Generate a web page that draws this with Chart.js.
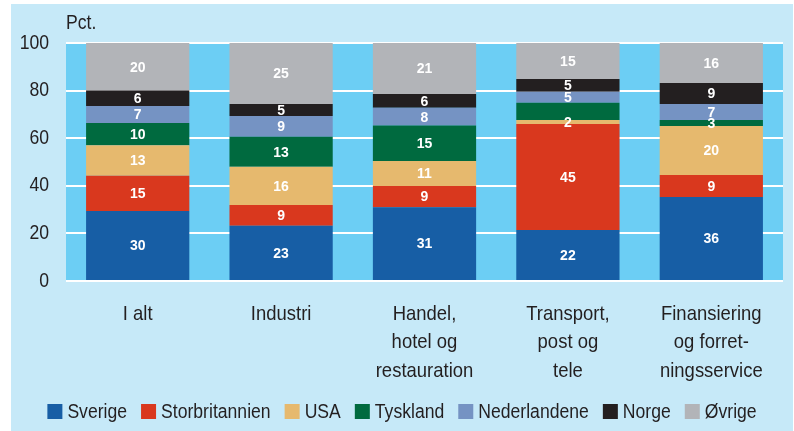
<!DOCTYPE html>
<html><head><meta charset="utf-8">
<script src="https://cdn.jsdelivr.net/npm/chart.js@4"></script>
<style>html,body{margin:0;padding:0;background:#fff}#wrap{width:794px;height:431px;position:relative}</style>
</head><body><div id="wrap"><canvas id="c" width="794" height="431"></canvas></div>
<script>
const categories = [["I alt"], ["Industri"], ["Handel,", "hotel og", "restauration"], ["Transport,", "post og", "tele"], ["Finansiering", "og forret-", "ningsservice"]];
const seriesNames = ["Sverige", "Storbritannien", "USA", "Tyskland", "Nederlandene", "Norge", "Øvrige"];
const sverige        = [29.4, 23.2, 31.0, 21.4, 35.3];
const storbritannien = [14.8, 8.7, 8.9, 44.6, 9.2];
const usa            = [12.8, 16.1, 10.5, 1.6, 20.6];
const tyskland       = [9.4, 12.6, 14.9, 7.3, 2.5];
const nederlandene   = [7.1, 8.7, 7.5, 4.6, 6.8];
const norge          = [6.5, 5.1, 5.8, 5.4, 8.8];
const ovrige         = [20.0, 25.6, 21.4, 15.1, 16.8];
// printed labels on the segments
const lblSverige        = ["30", "23", "31", "22", "36"];
const lblStorbritannien = ["15", "9", "9", "45", "9"];
const lblUsa            = ["13", "16", "11", "2", "20"];
const lblTyskland       = ["10", "13", "15", "", "3"];
const lblNederlandene   = ["7", "9", "8", "5", "7"];
const lblNorge          = ["6", "5", "6", "5", "9"];
const lblOvrige         = ["20", "25", "21", "15", "16"];
const yTicks = [0, 20, 40, 60, 80, 100];
const unitLabel = "Pct.";

const colors = ["#175ea5", "#d9381e", "#e6b96e", "#006a3f", "#7593c3", "#231f20", "#b2b4b8"];
const seriesData = [sverige, storbritannien, usa, tyskland, nederlandene, norge, ovrige];
const seriesLbls = [lblSverige, lblStorbritannien, lblUsa, lblTyskland, lblNederlandene, lblNorge, lblOvrige];
const FONT = "'Liberation Sans', Arial, sans-serif";
const TXT = "#231f20";
const K = 0.88; // horizontal condensing of text (reference uses a condensed face)

let condense = true;
const canvas = document.getElementById('c');
const ctx0 = canvas.getContext('2d');
const origFill = ctx0.fillText.bind(ctx0);
ctx0.fillText = function (t, x, y, mw) {
  if (!condense) return origFill(t, x, y);
  ctx0.save();
  ctx0.translate(x, y);
  ctx0.scale(K, 1);
  origFill(t, 0, 0);
  ctx0.restore();
};

const bgPlugin = {
  id: 'bg',
  beforeDraw(chart) {
    const ctx = chart.ctx, a = chart.chartArea;
    ctx.save();
    ctx.fillStyle = '#ffffff';
    ctx.fillRect(0, 0, chart.width, chart.height);
    ctx.fillStyle = '#c6e9f8';
    ctx.fillRect(11, 4, chart.width - 12, chart.height - 4);
    ctx.fillStyle = '#6ccef4';
    ctx.fillRect(a.left, a.top, a.right - a.left, a.bottom - a.top);
    ctx.fillStyle = TXT;
    ctx.font = "20px " + FONT;
    ctx.textBaseline = 'middle';
    ctx.textAlign = 'left';
    ctx.fillText(unitLabel, a.left, 23);
    ctx.restore();
  },
  afterDatasetsDraw(chart) {
    const ctx = chart.ctx;
    ctx.save();
    condense = false;
    ctx.fillStyle = '#ffffff';
    ctx.font = "bold 14px " + FONT;
    ctx.textAlign = 'center';
    ctx.textBaseline = 'middle';
    chart.data.datasets.forEach((ds, di) => {
      const meta = chart.getDatasetMeta(di);
      meta.data.forEach((el, i) => {
        const t = seriesLbls[di][i];
        if (!t) return;
        const p = el.getProps(['x', 'y', 'base'], true);
        ctx.fillText(t, p.x, (p.y + p.base) / 2 + 1);
      });
    });
    condense = true;
    ctx.restore();
  },
  afterDraw(chart) {
    const ctx = chart.ctx;
    ctx.save();
    ctx.font = "20px " + FONT;
    ctx.textBaseline = 'middle';
    ctx.textAlign = 'left';
    const box = 15, gap = 5, itemGap = 14;
    const widths = seriesNames.map(n => ctx.measureText(n).width * K);
    const total = widths.reduce((s, w) => s + box + gap + w, 0) + itemGap * (seriesNames.length - 1);
    let x = 402 - total / 2;
    const yc = 411.5;
    seriesNames.forEach((n, i) => {
      ctx.fillStyle = colors[i];
      ctx.fillRect(x, yc - 7.5, box, box);
      ctx.fillStyle = TXT;
      ctx.fillText(n, x + box + gap, yc + 1);
      x += box + gap + widths[i] + itemGap;
    });
    ctx.restore();
  }
};

new Chart(canvas, {
  type: 'bar',
  data: {
    labels: categories,
    datasets: seriesNames.map((n, i) => ({
      label: n,
      data: seriesData[i],
      backgroundColor: colors[i],
      borderWidth: 0,
      categoryPercentage: 1,
      barPercentage: 0.72
    }))
  },
  options: {
    responsive: false,
    animation: false,
    devicePixelRatio: 1,
    layout: { padding: { left: 0, right: 11, top: 43, bottom: 0 } },
    plugins: { legend: { display: false }, tooltip: { enabled: false } },
    scales: {
      x: {
        stacked: true,
        grid: { display: false, drawTicks: false },
        border: { display: false },
        ticks: { color: TXT, font: { family: FONT, size: 21, lineHeight: 1.37 }, padding: 18.5, maxRotation: 0, autoSkip: false },
        afterFit(s) { s.height = 150; }
      },
      y: {
        stacked: true,
        min: 0, max: 100,
        afterBuildTicks(s) { s.ticks = yTicks.map(v => ({ value: v })); },
        grid: { color: '#ffffff', lineWidth: 2, drawTicks: false },
        border: { display: false },
        ticks: { color: TXT, font: { family: FONT, size: 20 }, padding: 17 },
        afterFit(s) { s.width = 66; }
      }
    }
  },
  plugins: [bgPlugin]
});
</script></body></html>
